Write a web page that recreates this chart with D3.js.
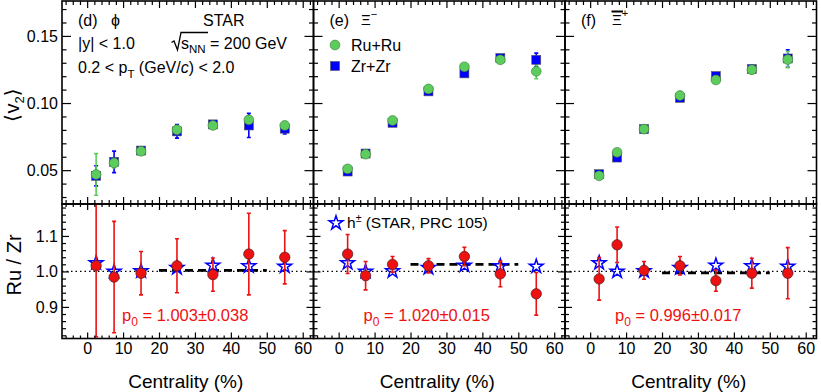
<!DOCTYPE html>
<html>
<head>
<meta charset="utf-8">
<script src="https://cdn.jsdelivr.net/npm/d3@7"></script>
<style>
  body { margin: 0; background: #fff; }
  svg { font-family: "Liberation Sans", Arial, Helvetica, sans-serif; }
  .tick line { stroke: #000; stroke-width: 1.2; }
  .tick text { font-size: 16px; fill: #000; }
</style>
</head>
<body>
<svg id="chart" width="821" height="392"></svg>
<script>
// ---- data ----
const cent = [2.5, 7.5, 15, 25, 35, 45, 55];        // centrality bin centres (%)
const xMajor = [0, 10, 20, 30, 40, 50, 60];

// phi <v2>
const phiRu    = [0.0468, 0.0554, 0.0641, 0.0801, 0.0833, 0.0875, 0.0833];
const phiRuErr = [0.0155, 0.0035, 0.002, 0.003, 0.002, 0.003, 0.003];
const phiZr    = [0.0458, 0.0562, 0.0646, 0.0789, 0.0841, 0.0833, 0.0809];
const phiZrErr = [0.0075, 0.008, 0.002, 0.005, 0.002, 0.009, 0.004];

// Xi- <v2>
const ximRu    = [0.0510, 0.0619, 0.0870, 0.1105, 0.1270, 0.1322, 0.1236];
const ximRuErr = [0.002, 0.002, 0.002, 0.002, 0.002, 0.002, 0.0055];
const ximZr    = [0.0490, 0.0624, 0.0853, 0.1087, 0.1221, 0.1335, 0.1322];
const ximZrErr = [0.002, 0.002, 0.002, 0.002, 0.002, 0.002, 0.005];

// anti-Xi+ <v2>
const xipRu    = [0.0458, 0.0633, 0.0806, 0.1056, 0.1172, 0.1248, 0.1324];
const xipRuErr = [0.002, 0.002, 0.002, 0.002, 0.002, 0.003, 0.006];
const xipZr    = [0.0470, 0.0594, 0.0806, 0.1039, 0.1201, 0.1253, 0.1332];
const xipZrErr = [0.002, 0.002, 0.002, 0.002, 0.002, 0.003, 0.0065];

// Ru/Zr ratios
const ratioPhi    = [1.016, 0.984, 0.995, 1.016, 0.991, 1.049, 1.040];
const ratioPhiErr = [0.20, 0.157, 0.061, 0.076, 0.047, 0.115, 0.075];
const ratioXim    = [1.049, 0.988, 1.020, 1.016, 1.042, 0.993, 0.937];
const ratioXimErr = [0.055, 0.040, 0.022, 0.020, 0.026, 0.036, 0.060];
const ratioXip    = [0.979, 1.075, 1.003, 1.016, 0.974, 0.995, 0.995];
const ratioXipErr = [0.060, 0.050, 0.025, 0.026, 0.030, 0.042, 0.072];

// h+- reference ratio (STAR, PRC 105)
const hRatio = [1.024, 1.000, 1.001, 1.010, 1.017, 1.015, 1.014];

// constant fits over 20-50%
const p0    = [1.003, 1.020, 0.996];
const p0Err = [0.038, 0.015, 0.017];
const fitRange = [20, 50];

const panelTags = ['(d)', '(e)', '(f)'];

const panels = [
  { ru: phiRu, ruErr: phiRuErr, zr: phiZr, zrErr: phiZrErr, ratio: ratioPhi, ratioErr: ratioPhiErr },
  { ru: ximRu, ruErr: ximRuErr, zr: ximZr, zrErr: ximZrErr, ratio: ratioXim, ratioErr: ratioXimErr },
  { ru: xipRu, ruErr: xipRuErr, zr: xipZr, zrErr: xipZrErr, ratio: ratioXip, ratioErr: ratioXipErr }
];

// ---- layout ----
const svg = d3.select('#chart');
const x0 = 62, pw = 251.5;
const topY0 = 1, midY = 204, botY1 = 338.5;

const GREEN = '#5ccc5c', BLUE = '#0000ff', RED = '#ee1111';

const yTop = d3.scaleLinear().domain([0.0248, 0.176]).range([midY, topY0]);
const yBot = d3.scaleLinear().domain([0.811, 1.19]).range([botY1, midY]);

const defs = svg.append('defs');

function axes(g, x, y, yTop_, yBottom, o) {
  const xl = x.range()[0], xr = x.range()[1];
  const xMinor = d3.range(-6, 63, 2).filter(v => v % 10 !== 0);

  // bottom
  g.append('g').attr('transform', `translate(0,${yBottom})`)
    .call(d3.axisBottom(x).tickValues(xMajor).tickSize(-o.xMaj).tickPadding(4)
      .tickFormat(o.xLabels ? d3.format('d') : ''));
  g.append('g').attr('transform', `translate(0,${yBottom})`)
    .call(d3.axisBottom(x).tickValues(xMinor).tickSize(-o.xMin).tickFormat(''));
  // top
  g.append('g').attr('transform', `translate(0,${yTop_})`)
    .call(d3.axisTop(x).tickValues(xMajor).tickSize(-o.xMaj).tickFormat(''));
  g.append('g').attr('transform', `translate(0,${yTop_})`)
    .call(d3.axisTop(x).tickValues(xMinor).tickSize(-o.xMin).tickFormat(''));
  // left
  g.append('g').attr('transform', `translate(${xl},0)`)
    .call(d3.axisLeft(y).tickValues(o.yMajor).tickSize(-o.yMaj).tickPadding(4)
      .tickFormat(o.yLabels ? d3.format(o.yFmt) : ''));
  g.append('g').attr('transform', `translate(${xl},0)`)
    .call(d3.axisLeft(y).tickValues(o.yMinor).tickSize(-o.yMin).tickFormat(''));
  // right
  g.append('g').attr('transform', `translate(${xr},0)`)
    .call(d3.axisRight(y).tickValues(o.yMajor).tickSize(-o.yMaj).tickFormat(''));
  g.append('g').attr('transform', `translate(${xr},0)`)
    .call(d3.axisRight(y).tickValues(o.yMinor).tickSize(-o.yMin).tickFormat(''));

  g.selectAll('.domain').remove();
  g.append('rect').attr('x', xl).attr('y', yTop_).attr('width', xr - xl).attr('height', yBottom - yTop_)
    .attr('fill', 'none').attr('stroke', '#000').attr('stroke-width', 1.6);
}

function errBars(g, x, y, vals, errs, color, cap) {
  cent.forEach((c, i) => {
    const cx = x(c), lo = y(vals[i] - errs[i]), hi = y(vals[i] + errs[i]);
    g.append('line').attr('x1', cx).attr('x2', cx).attr('y1', lo).attr('y2', hi)
      .attr('stroke', color).attr('stroke-width', 1.6);
    [lo, hi].forEach(yy => g.append('line').attr('x1', cx - cap).attr('x2', cx + cap)
      .attr('y1', yy).attr('y2', yy).attr('stroke', color).attr('stroke-width', 1.6));
  });
}

const star = d3.symbol().type(d3.symbolStar).size(60);

panels.forEach((p, k) => {
  const left = x0 + k * pw;
  const x = d3.scaleLinear().domain([-7, 63]).range([left, left + pw]);

  defs.append('clipPath').attr('id', 'clipT' + k).append('rect')
    .attr('x', left).attr('y', topY0).attr('width', pw).attr('height', midY - topY0);
  defs.append('clipPath').attr('id', 'clipB' + k).append('rect')
    .attr('x', left).attr('y', midY).attr('width', pw).attr('height', botY1 - midY);

  // ----- upper panel: <v2> -----
  const gt = svg.append('g').attr('clip-path', `url(#clipT${k})`);
  errBars(gt, x, yTop, p.zr, p.zrErr, BLUE, 2);
  errBars(gt, x, yTop, p.ru, p.ruErr, GREEN, 2);
  gt.selectAll('rect.zr').data(cent).join('rect').attr('class', 'zr')
    .attr('x', (c) => x(c) - 4.5).attr('y', (c, i) => yTop(p.zr[i]) - 4.5)
    .attr('width', 9).attr('height', 9)
    .attr('fill', BLUE).attr('stroke', '#555').attr('stroke-width', 0.6);
  gt.selectAll('circle.ru').data(cent).join('circle').attr('class', 'ru')
    .attr('cx', (c) => x(c)).attr('cy', (c, i) => yTop(p.ru[i])).attr('r', 4.9)
    .attr('fill', GREEN).attr('stroke', '#3d7d3d').attr('stroke-width', 0.6);

  axes(svg.append('g'), x, yTop, topY0, midY, {
    xMaj: 7, xMin: 4, yMaj: 9, yMin: 4.5, xLabels: false, yLabels: k === 0,
    yMajor: [0.05, 0.10, 0.15], yMinor: d3.range(0.03, 0.1751, 0.01).filter(v => Math.abs(v * 20 - Math.round(v * 20)) > 1e-6),
    yFmt: '.2f'
  });

  // ----- lower panel: Ru/Zr -----
  const gb = svg.append('g').attr('clip-path', `url(#clipB${k})`);
  gb.append('line').attr('x1', left).attr('x2', left + pw).attr('y1', yBot(1)).attr('y2', yBot(1))
    .attr('stroke', '#000').attr('stroke-width', 1.2).attr('stroke-dasharray', '1.5,3');
  gb.append('line').attr('x1', x(fitRange[0])).attr('x2', x(fitRange[1]))
    .attr('y1', yBot(p0[k])).attr('y2', yBot(p0[k]))
    .attr('stroke', '#000').attr('stroke-width', 2.6).attr('stroke-dasharray', '8,5');
  gb.selectAll('path.h').data(cent).join('path').attr('class', 'h')
    .attr('d', star).attr('transform', (c, i) => `translate(${x(c)},${yBot(hRatio[i])})`)
    .attr('fill', 'none').attr('stroke', BLUE).attr('stroke-width', 1.5);
  errBars(gb, x, yBot, p.ratio, p.ratioErr, RED, 2);
  gb.selectAll('circle.r').data(cent).join('circle').attr('class', 'r')
    .attr('cx', (c) => x(c)).attr('cy', (c, i) => yBot(p.ratio[i])).attr('r', 5.2)
    .attr('fill', RED).attr('stroke', '#442222').attr('stroke-width', 0.7);

  axes(svg.append('g'), x, yBot, midY, botY1, {
    xMaj: 6, xMin: 3, yMaj: 7, yMin: 4, xLabels: true, yLabels: k === 0,
    yMajor: [0.9, 1.0, 1.1], yMinor: [0.82, 0.84, 0.86, 0.88, 0.92, 0.94, 0.96, 0.98, 1.02, 1.04, 1.06, 1.08, 1.12, 1.14, 1.16, 1.18],
    yFmt: '.1f'
  });

  // x title
  svg.append('text').attr('x', left + pw / 2 - 2).attr('y', 388).attr('text-anchor', 'middle')
    .attr('font-size', 19).text('Centrality (%)');

  // fit value
  const pt = svg.append('text').attr('x', k === 0 ? left + 60 : left + 50).attr('y', 321)
    .attr('font-size', 16.5).attr('fill', RED);
  pt.append('tspan').text('p');
  pt.append('tspan').attr('font-size', 12).attr('dy', 5).text('0');
  pt.append('tspan').attr('dy', -5).text(' = ' + d3.format('.3f')(p0[k]) + '\u00b1' + d3.format('.3f')(p0Err[k]));

  // panel tag
  svg.append('text').attr('x', left + 16).attr('y', 26).attr('font-size', 16).text(panelTags[k]);
});

// ---- panel annotations ----
const fs = 16;
svg.append('text').attr('x', 111).attr('y', 26).attr('font-size', 16).text('\u03d5');
svg.append('text').attr('x', 203).attr('y', 26).attr('font-size', fs).text('STAR');
svg.append('text').attr('x', 78).attr('y', 49).attr('font-size', fs).text('|y| < 1.0');

// sqrt(s_NN)
svg.append('path').attr('d', 'M171.5,42.5 L174,41 L177.5,50 L181,32.5 H208')
  .attr('fill', 'none').attr('stroke', '#000').attr('stroke-width', 1.3);
const ss = svg.append('text').attr('x', 181).attr('y', 49).attr('font-size', fs);
ss.append('tspan').text('s');
ss.append('tspan').attr('font-size', 11.5).attr('dy', 4).text('NN');
ss.append('tspan').attr('dy', -4).text(' = 200 GeV');

const ptx = svg.append('text').attr('x', 78).attr('y', 73).attr('font-size', fs);
ptx.append('tspan').text('0.2 < p');
ptx.append('tspan').attr('font-size', 11.5).attr('dy', 5).text('T');
ptx.append('tspan').attr('dy', -5).text(' (GeV/');
ptx.append('tspan').attr('font-style', 'italic').text('c');
ptx.append('tspan').text(') < 2.0');

// Xi-
const xm = svg.append('text').attr('x', 361).attr('y', 25).attr('font-size', 15);
xm.append('tspan').text('\u039e');
xm.append('tspan').attr('font-size', 11).attr('dy', -7).text('\u2212');

// anti-Xi+
const xp = svg.append('text').attr('x', 612).attr('y', 25).attr('font-size', 15);
xp.append('tspan').text('\u039e');
xp.append('tspan').attr('font-size', 11).attr('dy', -8).text('+');
svg.append('line').attr('x1', 611.5).attr('x2', 623).attr('y1', 11.5).attr('y2', 11.5)
  .attr('stroke', '#000').attr('stroke-width', 2);

// legend (panel e)
svg.append('circle').attr('cx', 335).attr('cy', 45).attr('r', 4.9)
  .attr('fill', GREEN).attr('stroke', '#3d7d3d').attr('stroke-width', 0.6);
svg.append('text').attr('x', 351).attr('y', 51).attr('font-size', fs).text('Ru+Ru');
svg.append('rect').attr('x', 330.5).attr('y', 61.5).attr('width', 9).attr('height', 9)
  .attr('fill', BLUE).attr('stroke', '#555').attr('stroke-width', 0.6);
svg.append('text').attr('x', 351).attr('y', 72).attr('font-size', fs).text('Zr+Zr');

svg.append('path').attr('d', star).attr('transform', 'translate(336,223)')
  .attr('fill', 'none').attr('stroke', BLUE).attr('stroke-width', 1.5);
const hl = svg.append('text').attr('x', 347).attr('y', 228).attr('font-size', 15.5);
hl.append('tspan').text('h');
hl.append('tspan').attr('font-size', 10.5).attr('dy', -6).text('\u00b1');
hl.append('tspan').attr('dy', 6).text(' (STAR, PRC 105)');

// y titles
const yt = svg.append('text').attr('transform', 'translate(19,105) rotate(-90)')
  .attr('text-anchor', 'middle').attr('font-size', 20);
yt.append('tspan').attr('font-family', 'DejaVu Sans').attr('font-weight', 200).text('\u27e8');
yt.append('tspan').text('v');
yt.append('tspan').attr('font-size', 13).attr('dy', 5).text('2');
yt.append('tspan').attr('dy', -5).attr('font-family', 'DejaVu Sans').text('\u27e9');

svg.append('text').attr('transform', 'translate(21,265) rotate(-90)')
  .attr('text-anchor', 'middle').attr('font-size', 20).text('Ru / Zr');
</script>
</body>
</html>
